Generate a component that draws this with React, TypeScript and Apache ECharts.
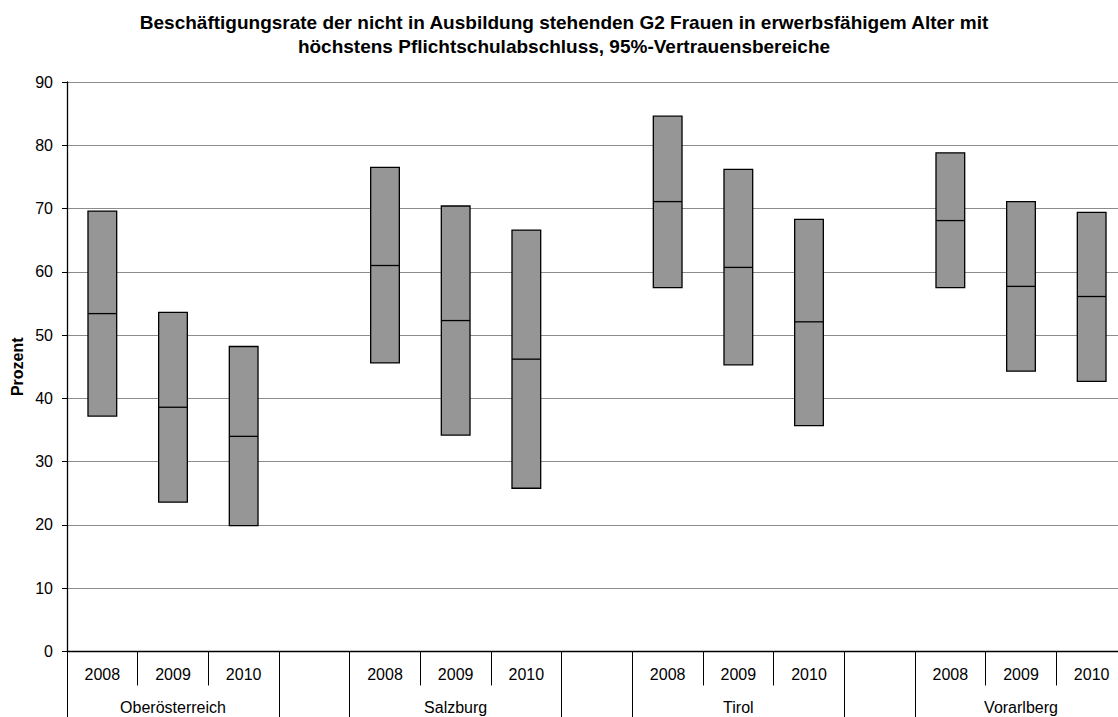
import React, { useEffect, useRef } from "react";
import * as echarts from "echarts";

const titleText =
  "Beschäftigungsrate der nicht in Ausbildung stehenden G2 Frauen in erwerbsfähigem Alter mit\nhöchstens Pflichtschulabschluss, 95%-Vertrauensbereiche";
const regions = ["Oberösterreich", "Salzburg", "Tirol", "Vorarlberg"];
const years = ["2008", "2009", "2010"];
// per region, per year
const lower = [
  [37.2, 23.6, 19.9],
  [45.6, 34.2, 25.8],
  [57.5, 45.3, 35.7],
  [57.5, 44.3, 42.7],
];
const estimate = [
  [53.4, 38.6, 34.0],
  [61.0, 52.3, 46.2],
  [71.1, 60.7, 52.1],
  [68.1, 57.7, 56.1],
];
const upper = [
  [69.6, 53.6, 48.2],
  [76.5, 70.4, 66.6],
  [84.6, 76.2, 68.3],
  [78.8, 71.1, 69.4],
];
const yTicks = { min: 0, max: 90, interval: 10 };

export default function App() {
  const ref = useRef<HTMLDivElement>(null);
  useEffect(() => {
    if (!ref.current) return;
    const chart = echarts.init(ref.current, null, { renderer: "svg" });

    const yearCats: string[] = [];
    const groupCats: string[] = [];
    const boundaries: number[] = [];
    regions.forEach((r, gi) => {
      boundaries.push(yearCats.length);
      years.forEach((y, yi) => {
        yearCats.push(y);
        groupCats.push(yi === 1 ? r : "");
      });
      boundaries.push(yearCats.length);
      if (gi < regions.length - 1) {
        yearCats.push("");
        groupCats.push("");
      }
    });

    const data: number[][] = [];
    regions.forEach((r, gi) => {
      years.forEach((y, yi) => {
        data.push([gi * 4 + yi, lower[gi][yi], estimate[gi][yi], upper[gi][yi]]);
      });
    });

    const font = "Liberation Sans, Arial, sans-serif";

    chart.setOption({
      animation: false,
      backgroundColor: "#fff",
      textStyle: { fontFamily: font },
      title: {
        text: titleText,
        left: 559,
        textAlign: "center",
        top: 5,
        textStyle: {
          fontFamily: font,
          fontSize: 19,
          fontWeight: "bold",
          color: "#000",
          lineHeight: 24,
        },
      },
      grid: { left: 67, top: 82, width: 1060, height: 569.5 },
      xAxis: [
        {
          type: "category",
          data: yearCats,
          position: "bottom",
          axisLine: { show: true, lineStyle: { color: "#000", width: 1.3 } },
          axisTick: { show: true, interval: 0, length: 34, lineStyle: { color: "#000", width: 1 } },
          axisLabel: { interval: 0, margin: 15, fontSize: 16, color: "#000", fontFamily: font },
          splitLine: { show: false },
        },
        {
          type: "category",
          data: groupCats,
          position: "bottom",
          axisLine: { show: false },
          axisTick: {
            show: true,
            length: 70,
            interval: (i: number) => boundaries.includes(i),
            lineStyle: { color: "#000", width: 1 },
          },
          axisLabel: { interval: 0, margin: 48, fontSize: 16, color: "#000", fontFamily: font },
          splitLine: { show: false },
        },
      ],
      yAxis: {
        type: "value",
        min: yTicks.min,
        max: yTicks.max,
        interval: yTicks.interval,
        name: "Prozent",
        nameLocation: "middle",
        nameRotate: 90,
        nameGap: 42,
        nameMoveOverlap: false,
        nameTextStyle: { fontFamily: font, fontSize: 16, fontWeight: "bold", color: "#000" },
        axisLine: { show: true, lineStyle: { color: "#000", width: 1.3 } },
        axisTick: { show: true, length: 5, lineStyle: { color: "#000" } },
        axisLabel: { margin: 14, fontSize: 16, color: "#000", fontFamily: font },
        splitLine: { show: true, lineStyle: { color: "#8c8c8c", width: 1 } },
      },
      series: [
        {
          type: "custom",
          xAxisIndex: 0,
          encode: { x: 0, y: [1, 2, 3] },
          data,
          renderItem: (params: any, api: any) => {
            const x = api.value(0);
            const lo = api.coord([x, api.value(1)]);
            const mid = api.coord([x, api.value(2)]);
            const hi = api.coord([x, api.value(3)]);
            const w = api.size([1, 0])[0] * 0.406;
            const x0 = lo[0] - w / 2;
            return {
              type: "group",
              children: [
                {
                  type: "rect",
                  shape: { x: x0, y: hi[1], width: w, height: lo[1] - hi[1] },
                  style: { fill: "#969696", stroke: "#000", lineWidth: 1.3 },
                },
                {
                  type: "line",
                  shape: { x1: x0, y1: mid[1], x2: x0 + w, y2: mid[1] },
                  style: { stroke: "#000", lineWidth: 1.3 },
                },
              ],
            };
          },
        },
      ],
    });
    return () => chart.dispose();
  }, []);
  return (
    <div
      style={{
        position: "fixed",
        left: 0,
        top: 0,
        width: 1118,
        height: 717,
        overflow: "hidden",
      }}
    >
      <div ref={ref} style={{ width: 1130, height: 717 }} />
    </div>
  );
}
